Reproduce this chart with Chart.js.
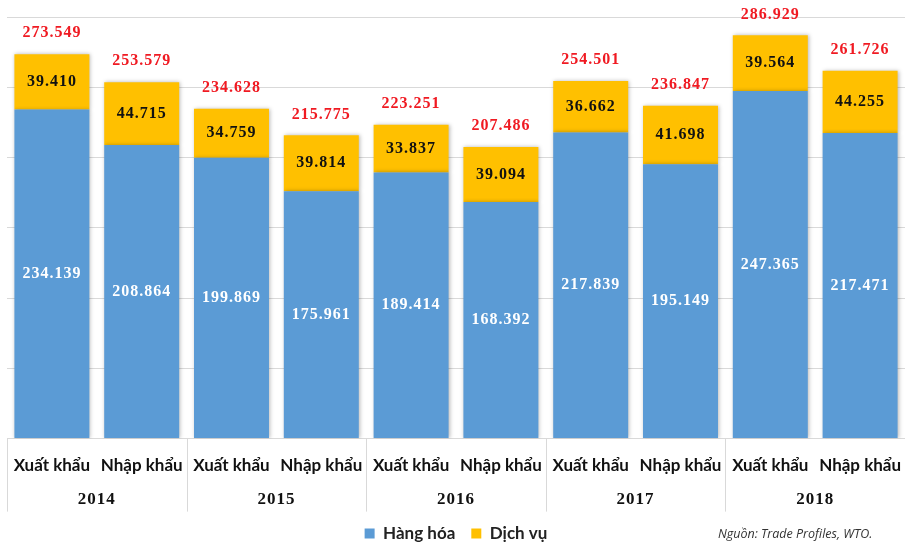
<!DOCTYPE html>
<html>
<head>
<meta charset="utf-8">
<script src="https://cdn.jsdelivr.net/npm/chart.js@4.4.1/dist/chart.umd.min.js"></script>
<style>
  html, body { margin: 0; padding: 0; background: #ffffff; }
  #wrap { width: 905px; height: 542px; position: relative; }
</style>
</head>
<body>
<div id="wrap"><canvas id="c"></canvas></div>
<script>
// Categories: export / import for each year
const categories = [
  'Xuất khẩu', 'Nhập khẩu', 'Xuất khẩu', 'Nhập khẩu', 'Xuất khẩu',
  'Nhập khẩu', 'Xuất khẩu', 'Nhập khẩu', 'Xuất khẩu', 'Nhập khẩu'
];
const years = ['2014', '2015', '2016', '2017', '2018'];

// Goods (Hàng hóa)
const hangHoa = [234.139, 208.864, 199.869, 175.961, 189.414, 168.392, 217.839, 195.149, 247.365, 217.471];
// Services (Dịch vụ)
const dichVu = [39.410, 44.715, 34.759, 39.814, 33.837, 39.094, 36.662, 41.698, 39.564, 44.255];

const yMax = 300;
const yStep = 50;

const BLUE = '#5b9bd5';
const GOLD = '#ffc000';
const GRID = '#d9d9d9';
const numFont = 'bold 16px "Liberation Serif", "DejaVu Serif", serif';
const labelFamily = 'Lato, "Liberation Sans", sans-serif';

const fmt = v => v.toFixed(3);

// Soft shadow behind the bars
const barShadow = {
  id: 'barShadow',
  beforeDatasetsDraw(chart) {
    const ctx = chart.ctx;
    ctx.save();
    ctx.shadowColor = 'rgba(0,0,0,0.28)';
    ctx.shadowBlur = 4;
    ctx.shadowOffsetX = 1;
    ctx.shadowOffsetY = 0;
  },
  afterDatasetsDraw(chart) {
    chart.ctx.restore();
  }
};

// Segment values, totals, year row, separators and source note
const annotate = {
  id: 'annotate',
  afterDatasetsDraw(chart) {
    const ctx = chart.ctx;
    const area = chart.chartArea;
    const m0 = chart.getDatasetMeta(0);
    const m1 = chart.getDatasetMeta(1);
    ctx.save();
    ctx.font = numFont;
    try { ctx.letterSpacing = '1px'; } catch (e) {}
    ctx.textAlign = 'center';
    ctx.textBaseline = 'middle';
    categories.forEach((_, i) => {
      const b0 = m0.data[i], b1 = m1.data[i];
      ctx.fillStyle = '#ffffff';
      ctx.fillText(fmt(hangHoa[i]), b0.x, (b0.y + b0.base) / 2);
      ctx.fillStyle = '#111111';
      ctx.fillText(fmt(dichVu[i]), b1.x, (b1.y + b1.base) / 2);
      ctx.fillStyle = '#f01a22';
      ctx.fillText(fmt(hangHoa[i] + dichVu[i]), b1.x, b1.y - 21);
    });

    // Year labels centred under each pair of bars
    const xs = chart.scales.x;
    ctx.font = 'bold 17px "Liberation Serif", "DejaVu Serif", serif';
    ctx.fillStyle = '#111111';
    const step = xs.getPixelForValue(1) - xs.getPixelForValue(0);
    years.forEach((yr, k) => {
      const cx = (xs.getPixelForValue(2 * k) + xs.getPixelForValue(2 * k + 1)) / 2;
      ctx.fillText(yr, cx, area.bottom + 61);
    });
    try { ctx.letterSpacing = '0px'; } catch (e) {}

    // Group separators below the axis
    ctx.strokeStyle = GRID;
    ctx.lineWidth = 1;
    for (let k = 0; k <= years.length; k++) {
      const x = Math.round(xs.getPixelForValue(2 * k) - step / 2) + 0.5;
      if (x > chart.width - 1) continue;
      ctx.beginPath();
      ctx.moveTo(x, area.bottom);
      ctx.lineTo(x, area.bottom + 73);
      ctx.stroke();
    }

    // Source note
    ctx.font = 'italic 12.5px "Open Sans", "DejaVu Sans", sans-serif';
    ctx.fillStyle = '#333333';
    ctx.textAlign = 'left';
    ctx.fillText('Nguồn: Trade Profiles, WTO.', 718, 534);
    ctx.restore();
  }
};

new Chart(document.getElementById('c'), {
  type: 'bar',
  data: {
    labels: categories,
    datasets: [
      { label: 'Hàng hóa', data: hangHoa, backgroundColor: BLUE, borderWidth: 0 },
      { label: 'Dịch vụ', data: dichVu, backgroundColor: GOLD, borderWidth: 0 }
    ]
  },
  options: {
    responsive: true,
    maintainAspectRatio: false,
    animation: false,
    events: [],
    categoryPercentage: 1,
    barPercentage: 0.835,
    layout: { padding: { top: 17, left: 7, right: 0, bottom: -10 } },
    plugins: {
      tooltip: { enabled: false },
      legend: {
        position: 'bottom',
        labels: {
          color: '#222222',
          boxWidth: 10,
          boxHeight: 10,
          padding: 16,
          font: { family: labelFamily, size: 17, weight: 'bold' }
        }
      }
    },
    scales: {
      x: {
        stacked: true,
        grid: { display: false, drawTicks: true, tickLength: 17 },
        border: { display: true, color: GRID },
        ticks: {
          color: '#111111',
          padding: 0,
          maxRotation: 0,
          autoSkip: false,
          font: { family: labelFamily, size: 17, weight: 'bold' }
        },
        afterFit(scale) { scale.height += 33; }
      },
      y: {
        stacked: true,
        min: 0,
        max: yMax,
        ticks: { display: false, stepSize: yStep },
        grid: { color: GRID, drawTicks: false },
        border: { display: false }
      }
    }
  },
  plugins: [barShadow, annotate]
});
</script>
</body>
</html>
